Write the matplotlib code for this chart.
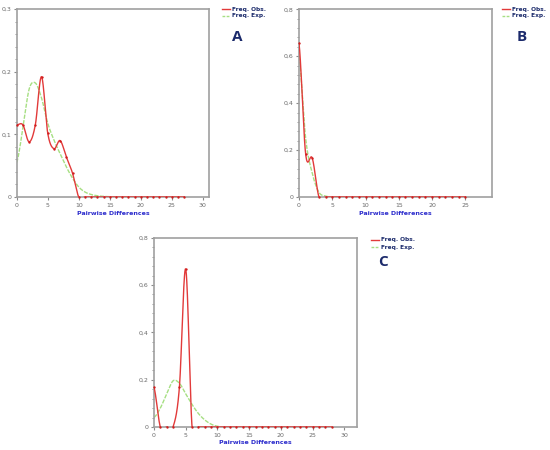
import numpy as np
import matplotlib
matplotlib.use("Agg")
import matplotlib.pyplot as plt
from matplotlib.lines import Line2D
from matplotlib.ticker import FuncFormatter, MultipleLocator

# ---------------- data ----------------
a_x_obs = list(range(0, 28))
a_obs = [0.115, 0.115, 0.088, 0.115, 0.192, 0.102, 0.077, 0.090, 0.064, 0.038, 0.0] + [0.0] * 17
a_x_exp = list(range(0, 28))
a_exp = [0.055, 0.110, 0.172, 0.182, 0.158, 0.118, 0.091, 0.069, 0.048, 0.030, 0.016,
         0.008, 0.004, 0.002, 0.001, 0.0005] + [0.0] * 12

b_x_obs = list(range(0, 26))
b_obs = [0.655, 0.183, 0.165, 0.0] + [0.0] * 22
b_x_exp = list(range(0, 26))
b_exp = [0.60, 0.25, 0.10, 0.02, 0.004, 0.0] + [0.0] * 20

c_x_obs = list(range(0, 29))
c_obs = [0.167, 0.0, 0.0, 0.0, 0.167, 0.667, 0.0] + [0.0] * 22
c_x_exp = list(range(0, 29))
c_exp = [0.04, 0.08, 0.14, 0.195, 0.185, 0.14, 0.095, 0.057, 0.030, 0.012, 0.003, 0.0] + [0.0] * 17

panels = [
    dict(x_obs=a_x_obs, obs=a_obs, x_exp=a_x_exp, exp=a_exp, xlim=(0, 31), ylim=(0, 0.3),
         ymaj=0.1, ymin=0.02, rect=[16.7, 9, 209, 197], letter="A", letter_xy=(237, 37),
         leg_xy=(222, 9), xlab_y=213),
    dict(x_obs=b_x_obs, obs=b_obs, x_exp=b_x_exp, exp=b_exp, xlim=(0, 29), ylim=(0, 0.8),
         ymaj=0.2, ymin=0.04, rect=[299, 9.3, 492, 197], letter="B", letter_xy=(522, 37),
         leg_xy=(502, 9), xlab_y=213),
    dict(x_obs=c_x_obs, obs=c_obs, x_exp=c_x_exp, exp=c_exp, xlim=(0, 32), ylim=(0, 0.8),
         ymaj=0.2, ymin=0.04, rect=[154, 237.7, 357, 427], letter="C", letter_xy=(383, 262),
         leg_xy=(371, 240), xlab_y=443),
]

W, H = 550, 450
RED = "#e23a3a"
DOT = "#d01c1c"
GREEN = "#a6df82"
NAVY = "#1b2a6b"
LBLUE = "#2b2bcc"


def catmull_rom(x, y, n=30):
    x = np.asarray(x, float)
    y = np.asarray(y, float)
    xp = np.concatenate([[2 * x[0] - x[1]], x, [2 * x[-1] - x[-2]]])
    yp = np.concatenate([[y[0]], y, [y[-1]]])
    xs, ys = [], []
    for i in range(1, len(xp) - 2):
        t = np.linspace(0, 1, n, endpoint=False)
        m1 = (yp[i + 1] - yp[i - 1]) / 2.0
        m2 = (yp[i + 2] - yp[i]) / 2.0
        h00 = 2 * t**3 - 3 * t**2 + 1
        h10 = t**3 - 2 * t**2 + t
        h01 = -2 * t**3 + 3 * t**2
        h11 = t**3 - t**2
        ys.append(h00 * yp[i] + h10 * m1 + h01 * yp[i + 1] + h11 * m2)
        xs.append(xp[i] + t * (xp[i + 1] - xp[i]))
    xs.append([x[-1]])
    ys.append([y[-1]])
    return np.concatenate(xs), np.concatenate(ys)


def fmt(v, pos):
    if abs(v) < 1e-9:
        return "0"
    return ("%.1f" % v).replace(".", ",")


fig = plt.figure(figsize=(5.5, 4.5), dpi=100)
fig.patch.set_facecolor("white")

for p in panels:
    l, t, r, b = p["rect"]
    ax = fig.add_axes([l / W, 1 - b / H, (r - l) / W, (b - t) / H])
    sx, sy = catmull_rom(p["x_exp"], p["exp"])
    ax.plot(sx, sy, color=GREEN, lw=1.0, ls=(0, (3, 1)), zorder=2)
    sx, sy = catmull_rom(p["x_obs"], p["obs"])
    ax.plot(sx, sy, color=RED, lw=1.0, zorder=3)
    ax.plot(p["x_obs"], p["obs"], ls="none", marker="o", ms=1.7, color=DOT, mew=0, zorder=4,
            clip_on=False)
    ax.set_xlim(*p["xlim"])
    ax.set_ylim(*p["ylim"])
    ax.xaxis.set_major_locator(MultipleLocator(5))
    ax.yaxis.set_major_locator(MultipleLocator(p["ymaj"]))
    ax.yaxis.set_minor_locator(MultipleLocator(p["ymin"]))
    ax.yaxis.set_major_formatter(FuncFormatter(fmt))
    ax.tick_params(axis="both", which="major", direction="out", length=2.5, width=0.8,
                   color="#8a8a8a", labelcolor="#6a6a6a", labelsize=4.5, pad=1.5)
    ax.tick_params(axis="y", which="minor", direction="out", length=1.8, width=0.6, color="#8a8a8a")
    for s in ax.spines.values():
        s.set_color("#a0a0a0")
        s.set_linewidth(1.2)
    ax.set_xlabel("Pairwise Differences", fontsize=4.5, color=LBLUE, fontweight="bold")
    ax.xaxis.set_label_coords(0.5, -(p["xlab_y"] - b) / (b - t))
    ax.xaxis.label.set_verticalalignment("center")

    # legend
    lx, ly = p["leg_xy"]
    fig.add_artist(Line2D([lx / W, (lx + 8) / W], [1 - ly / H, 1 - ly / H], color=RED, lw=1.0))
    fig.add_artist(Line2D([lx / W, (lx + 8) / W], [1 - (ly + 7) / H, 1 - (ly + 7) / H],
                          color=GREEN, lw=1.0, ls=(0, (2, 1))))
    fig.text((lx + 10) / W, 1 - ly / H, "Freq. Obs.", fontsize=4.2, color=NAVY,
             va="center", ha="left", fontweight="bold")
    fig.text((lx + 10) / W, 1 - (ly + 7) / H, "Freq. Exp.", fontsize=4.2, color=NAVY,
             va="center", ha="left", fontweight="bold")
    fig.text(p["letter_xy"][0] / W, 1 - p["letter_xy"][1] / H, p["letter"], fontsize=11,
             color=NAVY, fontweight="bold", ha="center", va="center", family="Open Sans")

fig.savefig("out.png", dpi=100, facecolor="white")
